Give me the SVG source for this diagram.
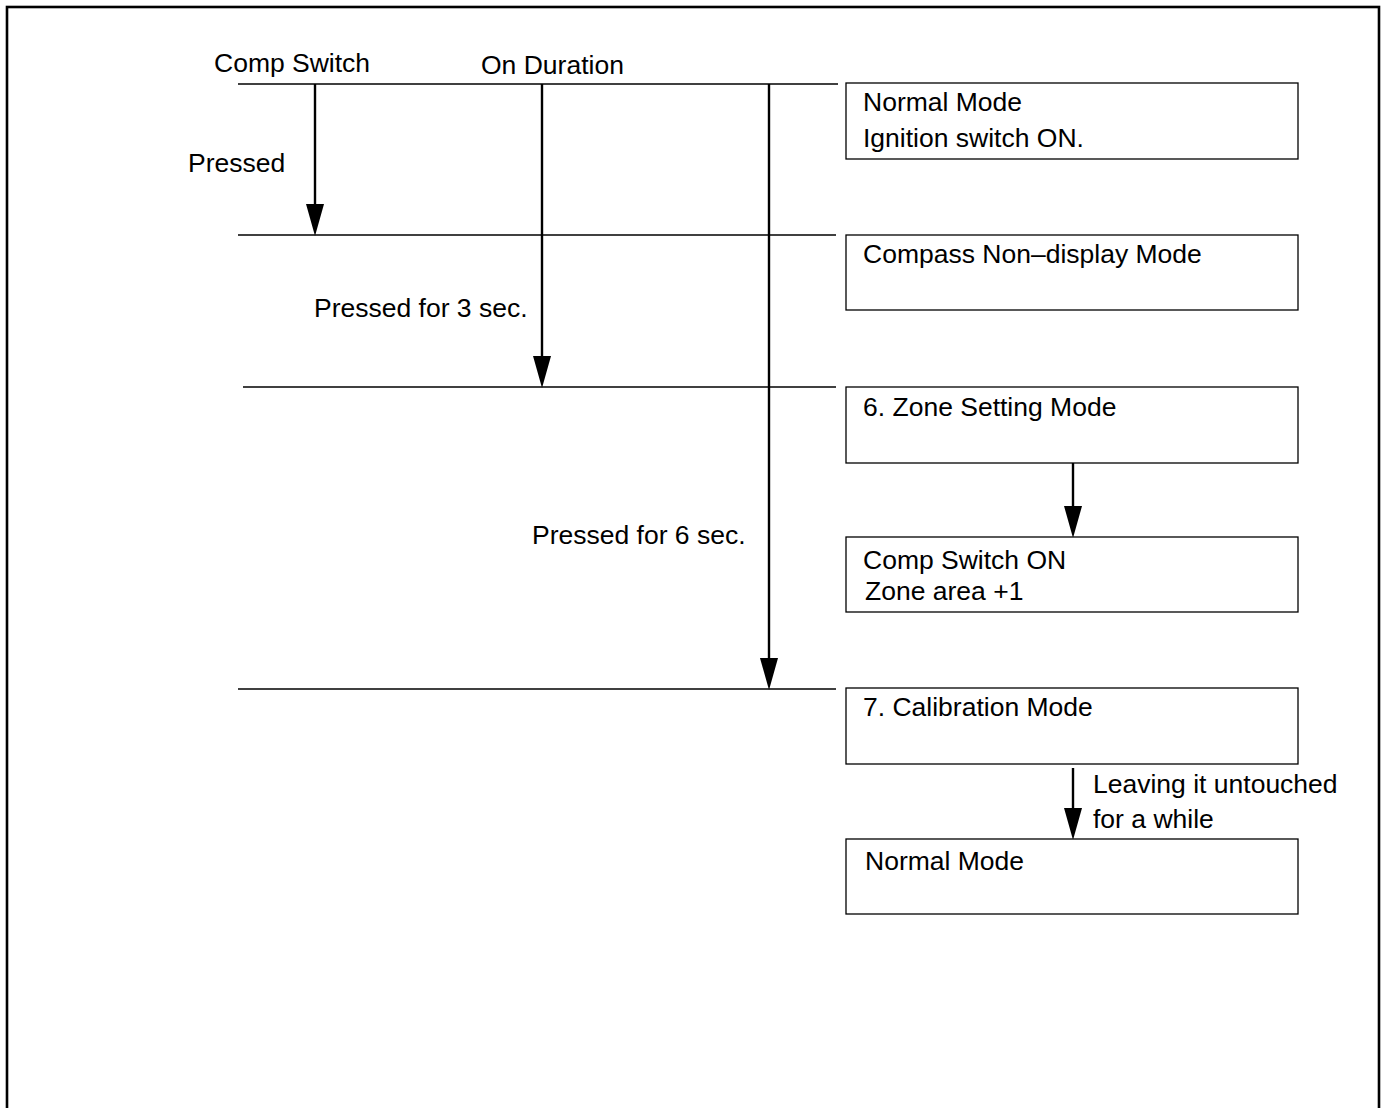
<svg xmlns="http://www.w3.org/2000/svg" width="1386" height="1108" viewBox="0 0 1386 1108">
<style>
text{font-family:"Liberation Sans",Arial,sans-serif;font-size:26.5px;fill:#000}
.ln{stroke:#000;stroke-width:1.3;fill:none}
.ar{stroke:#000;stroke-width:2.4;fill:none}
.box{stroke:#000;stroke-width:1.3;fill:#fff}
</style>
<rect x="7" y="7" width="1372" height="1120" fill="none" stroke="#000" stroke-width="2.6"/>
<g id="headers">
<text x="214" y="72">Comp Switch</text>
<text x="481" y="74">On Duration</text>
</g>
<g id="levels">
<line class="ln" x1="238" y1="84" x2="838" y2="84"/>
<line class="ln" x1="238" y1="235" x2="836" y2="235"/>
<line class="ln" x1="243" y1="387" x2="836" y2="387"/>
<line class="ln" x1="238" y1="689" x2="836" y2="689"/>
</g>
<g id="connectors">
<line class="ar" x1="315" y1="84" x2="315" y2="204"/>
<path d="M306,204 L324,204 L315,236 Z"/>
<line class="ar" x1="542" y1="84" x2="542" y2="356"/>
<path d="M533,356 L551,356 L542,388 Z"/>
<line class="ar" x1="769" y1="84" x2="769" y2="658"/>
<path d="M760,658 L778,658 L769,690 Z"/>
<line class="ar" x1="1073" y1="463" x2="1073" y2="506"/>
<path d="M1064,506 L1082,506 L1073,538 Z"/>
<line class="ar" x1="1073" y1="768" x2="1073" y2="808"/>
<path d="M1064,808 L1082,808 L1073,840 Z"/>
</g>
<g id="edge-labels">
<text x="188" y="172">Pressed</text>
<text x="314" y="317">Pressed for 3 sec.</text>
<text x="532" y="544">Pressed for 6 sec.</text>
<text x="1093" y="793">Leaving it untouched</text>
<text x="1093" y="828">for a while</text>
</g>
<g id="normal-mode-1">
<rect class="box" x="846" y="83" width="452" height="76"/>
<text x="863" y="111">Normal Mode</text>
<text x="863" y="147">Ignition switch ON.</text>
</g>
<g id="compass-non-display">
<rect class="box" x="846" y="235" width="452" height="75"/>
<text x="863" y="263">Compass Non–display Mode</text>
</g>
<g id="zone-setting">
<rect class="box" x="846" y="387" width="452" height="76"/>
<text x="863" y="416">6. Zone Setting Mode</text>
</g>
<g id="comp-switch-on">
<rect class="box" x="846" y="537" width="452" height="75"/>
<text x="863" y="569">Comp Switch ON</text>
<text x="865" y="600">Zone area +1</text>
</g>
<g id="calibration">
<rect class="box" x="846" y="688" width="452" height="76"/>
<text x="863" y="716">7. Calibration Mode</text>
</g>
<g id="normal-mode-2">
<rect class="box" x="846" y="839" width="452" height="75"/>
<text x="865" y="870">Normal Mode</text>
</g>
</svg>
